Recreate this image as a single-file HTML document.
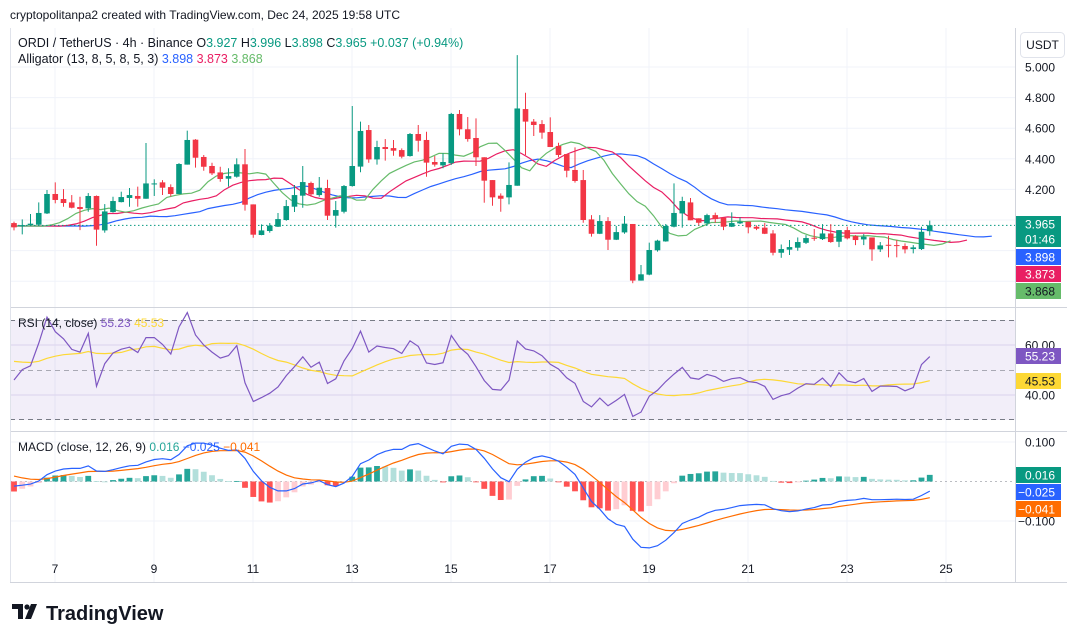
<!DOCTYPE html>
<html><head><meta charset="utf-8"><style>
html,body{margin:0;padding:0;background:#fff;}
svg{display:block;font-family:"Liberation Sans",sans-serif;}
</style></head><body>
<svg id="c" width="1080" height="643" viewBox="0 0 1080 643" xmlns="http://www.w3.org/2000/svg">
<rect x="0" y="0" width="1080" height="643" fill="#ffffff"/>
<text x="10" y="19" font-size="12" fill="#131722">cryptopolitanpa2 created with TradingView.com, Dec 24, 2025 19:58 UTC</text>
<g id="grid"></g>
<rect x="10" y="320" width="1005" height="100" fill="#7e57c2" fill-opacity="0.1"/>
<line x1="10" y1="320.5" x2="1015" y2="320.5" stroke="#787b86" stroke-dasharray="5,4"/>
<line x1="10" y1="370.5" x2="1015" y2="370.5" stroke="#787b86" stroke-opacity="0.6" stroke-dasharray="5,4"/>
<line x1="10" y1="419.5" x2="1015" y2="419.5" stroke="#787b86" stroke-dasharray="5,4"/>
<line x1="10" y1="481.5" x2="1015" y2="481.5" stroke="#787b86" stroke-opacity="0.5" stroke-dasharray="2,3"/>
<g id="marks"></g>
<line x1="10" y1="307.5" x2="1067" y2="307.5" stroke="#d1d4dc"/>
<line x1="10" y1="431.5" x2="1067" y2="431.5" stroke="#d1d4dc"/>
<line x1="1015.5" y1="28" x2="1015.5" y2="582" stroke="#d1d4dc"/>
<line x1="10" y1="582.5" x2="1067" y2="582.5" stroke="#d1d4dc"/>
<line x1="10.5" y1="28" x2="10.5" y2="582" stroke="#e0e3eb"/>
<g id="axes"></g>
<g font-size="12.5">
<text x="18" y="47" fill="#131722">ORDI / TetherUS · 4h · Binance <tspan fill="#131722">O</tspan><tspan fill="#089981">3.927</tspan> <tspan fill="#131722">H</tspan><tspan fill="#089981">3.996</tspan> <tspan fill="#131722">L</tspan><tspan fill="#089981">3.898</tspan> <tspan fill="#131722">C</tspan><tspan fill="#089981">3.965 +0.037 (+0.94%)</tspan></text>
<text x="18" y="63" fill="#131722">Alligator (13, 8, 5, 8, 5, 3) <tspan fill="#2962ff">3.898</tspan> <tspan fill="#e91e63">3.873</tspan> <tspan fill="#66bb6a">3.868</tspan></text>
</g>
<text x="18" y="327" font-size="12" fill="#131722">RSI (14, close) <tspan fill="#7e57c2">55.23</tspan> <tspan fill="#fdd835">45.53</tspan></text>
<text x="18" y="451" font-size="12" fill="#131722">MACD (close, 12, 26, 9) <tspan fill="#26a69a">0.016</tspan> <tspan fill="#2962ff">−0.025</tspan> <tspan fill="#ff6d00">−0.041</tspan></text>
<g>
<rect x="1020.5" y="32.5" width="44" height="25" rx="4" fill="#fff" stroke="#e0e3eb"/>
<text x="1042.5" y="49" font-size="12" text-anchor="middle" fill="#131722">USDT</text>
</g>
<g>
<path d="M12 604h11v15h-5v-10h-6z" fill="#131722"/>
<circle cx="27" cy="607" r="2.6" fill="#131722"/>
<path d="M31 604h6l-6 15h-6z" fill="#131722"/>
<text x="46" y="620" font-size="20" font-weight="bold" fill="#131722">TradingView</text>
</g>
</svg>
<script>
var opens=[3.980,3.962,3.967,3.969,4.043,4.170,4.137,4.115,4.085,4.076,4.157,3.932,4.052,4.117,4.144,4.157,4.139,4.235,4.246,4.215,4.170,4.362,4.525,4.412,4.353,4.311,4.270,4.283,4.364,4.102,3.902,3.928,3.956,4.000,4.087,4.159,4.242,4.163,4.209,4.028,4.054,4.222,4.349,4.588,4.396,4.477,4.470,4.457,4.418,4.562,4.523,4.379,4.357,4.371,4.693,4.593,4.536,4.410,4.261,4.159,4.148,4.224,4.725,4.643,4.627,4.575,4.484,4.431,4.327,4.261,4.004,3.910,3.993,3.871,3.919,3.974,3.604,3.643,3.802,3.860,3.956,4.043,4.115,4.011,3.978,4.032,4.015,3.956,3.978,3.989,3.956,3.950,3.912,3.786,3.806,3.819,3.851,3.884,3.875,3.912,3.858,3.934,3.895,3.873,3.886,3.808,3.838,3.836,3.830,3.810,3.810,3.927];
var highs=[3.989,4.004,4.039,4.115,4.196,4.246,4.202,4.163,4.152,4.176,4.160,4.104,4.152,4.185,4.209,4.218,4.503,4.266,4.261,4.233,4.372,4.584,4.529,4.425,4.374,4.348,4.338,4.403,4.464,4.102,3.971,3.980,4.046,4.131,4.229,4.353,4.251,4.281,4.263,4.124,4.229,4.745,4.643,4.621,4.518,4.529,4.523,4.468,4.569,4.621,4.577,4.418,4.436,4.700,4.719,4.673,4.664,4.410,4.261,4.174,4.377,5.078,4.832,4.660,4.653,4.671,4.505,4.431,4.475,4.327,4.032,4.032,4.019,3.961,4.026,3.974,3.706,3.852,3.871,3.974,4.239,4.152,4.144,4.011,4.041,4.048,4.015,4.050,4.017,3.989,3.965,3.980,3.934,3.840,3.869,3.886,3.901,3.941,3.973,3.973,3.934,3.956,3.901,3.908,3.886,3.856,3.897,3.869,3.847,3.836,3.956,3.996];
var lows=[3.932,3.906,3.963,3.967,4.039,4.109,4.087,4.076,3.934,4.054,3.832,3.917,4.048,4.115,4.087,4.087,4.139,4.157,4.163,4.154,4.170,4.362,4.342,4.322,4.294,4.250,4.218,4.277,4.061,3.884,3.900,3.917,3.954,3.995,4.052,4.080,4.152,4.152,4.000,3.950,4.043,4.218,4.312,4.374,4.362,4.388,4.420,4.403,4.414,4.447,4.283,4.349,4.338,4.360,4.553,4.512,4.353,4.113,4.093,4.054,4.102,4.224,4.425,4.549,4.531,4.477,4.410,4.279,4.244,3.982,3.891,3.908,3.804,3.869,3.910,3.587,3.604,3.639,3.793,3.858,3.952,3.950,3.998,3.965,3.965,3.982,3.934,3.954,3.974,3.913,3.934,3.908,3.769,3.753,3.771,3.799,3.843,3.864,3.869,3.851,3.823,3.873,3.836,3.836,3.734,3.791,3.756,3.756,3.782,3.782,3.804,3.898];
var closes=[3.952,3.966,3.976,4.046,4.170,4.131,4.111,4.080,4.072,4.157,3.937,4.056,4.124,4.150,4.163,4.139,4.239,4.239,4.211,4.170,4.366,4.523,4.407,4.348,4.305,4.268,4.287,4.364,4.100,3.904,3.932,3.963,4.006,4.091,4.163,4.248,4.168,4.211,4.028,4.065,4.222,4.353,4.582,4.396,4.477,4.464,4.453,4.414,4.562,4.518,4.375,4.362,4.379,4.693,4.593,4.529,4.410,4.257,4.148,4.139,4.229,4.729,4.643,4.621,4.571,4.477,4.425,4.322,4.255,4.000,3.910,3.993,3.871,3.921,3.976,3.604,3.645,3.804,3.865,3.961,4.046,4.124,3.998,3.982,4.032,4.006,3.956,3.980,3.989,3.952,3.943,3.910,3.786,3.810,3.823,3.856,3.882,3.878,3.912,3.856,3.934,3.880,3.869,3.891,3.808,3.834,3.834,3.832,3.808,3.821,3.923,3.965];
var priceTicks=["5.000","4.800","4.600","4.400","4.200","4.000"];
var priceTickValues=[5.0,4.8,4.6,4.4,4.2,4.0];
var dayLabels=["7","9","11","13","15","17","19","21","23","25"];
var dayValues=[7,9,11,13,15,17,19,21,23,25];
var rsiTicks=[60,40];
var macdTicks=[0.1,-0.1];

var NS="http://www.w3.org/2000/svg";
function xOf(i){return 14+i*8.25;}
function xDay(d){return 55+(d-7)*49.5;}
function yP(p){return 67+(5-p)*153;}
function yR(r){return 370-(r-50)*2.5;}
function yM(m){return 481.5-m*395;}
function mk(tag,attrs,parent){var e=document.createElementNS(NS,tag);for(var k in attrs)e.setAttribute(k,attrs[k]);parent.appendChild(e);return e;}
var grid=document.getElementById('grid'),marks=document.getElementById('marks'),axes=document.getElementById('axes');

priceTickValues.forEach(function(v,i){
  var g=mk('line',{x1:10,x2:1015,y1:yP(v),y2:yP(v),stroke:'#f0f3fa'},grid);
  
  
  var t=mk('text',{x:1055,y:yP(v)+4.5,'font-size':12,'text-anchor':'end',fill:'#131722'},axes);
  t.textContent=priceTicks[i];
  
  
});
[3.8,3.6].forEach(function(v){
  var g=mk('line',{x1:10,x2:1015,y1:yP(v),y2:yP(v),stroke:'#f0f3fa'},grid);
  
  
});
dayValues.forEach(function(d,i){
  var x=xDay(d);
  var g=mk('line',{x1:x,x2:x,y1:28,y2:582,stroke:'#f0f3fa'},grid);
  
  
  var t=mk('text',{x:x,y:573,'font-size':12,'text-anchor':'middle',fill:'#131722'},axes);
  t.textContent=dayLabels[i];
  
  
});
rsiTicks.forEach(function(v){
  var g=mk('line',{x1:10,x2:1015,y1:yR(v),y2:yR(v),stroke:'#e6e1f2'},grid);
  
  
  var t=mk('text',{x:1055,y:yR(v)+4.5,'font-size':12,'text-anchor':'end',fill:'#131722'},axes);
  t.textContent=v.toFixed(2);
  
  
});
macdTicks.forEach(function(v){
  var g=mk('line',{x1:10,x2:1015,y1:yM(v),y2:yM(v),stroke:'#f0f3fa'},grid);
  
  
  var t=mk('text',{x:1055,y:yM(v)+4.5,'font-size':12,'text-anchor':'end',fill:'#131722'},axes);
  t.textContent=(v<0?'−':'')+Math.abs(v).toFixed(3);
  
  
});

var n=closes.length;
function smma(len){var out=[],s=0;for(var i=0;i<n;i++){var m=(highs[i]+lows[i])/2;s=i==0?m:(s*(len-1)+m)/len;out.push(s);}return out;}
function shiftedLine(vals,shift,color,name){
  var pts=[];
  for(var j=0;j<n+shift;j++){var k=Math.max(0,j-shift);var x=xOf(j)-4;if(x<10)x=10;pts.push(x.toFixed(1)+','+yP(vals[k]).toFixed(1));}
  var p=mk('polyline',{points:pts.join(' '),fill:'none',stroke:color,'stroke-width':1.2},marks);
  
  
}
shiftedLine(smma(13),8,'#2962ff','alligator-jaw');
shiftedLine(smma(8),5,'#e91e63','alligator-teeth');
shiftedLine(smma(5),3,'#66bb6a','alligator-lips');

var lp=mk('line',{x1:10,x2:1015,y1:yP(closes[n-1]),y2:yP(closes[n-1]),stroke:'#089981','stroke-dasharray':'1.5,2.5'},marks);



for(var i=0;i<n;i++){
  var up=closes[i]>=opens[i],col=up?'#089981':'#f23645',x=xOf(i);
  var g=mk('g',{},marks);
  
  
  mk('line',{x1:x,x2:x,y1:yP(highs[i]),y2:yP(lows[i]),stroke:col,'stroke-width':1},g);
  var t=yP(Math.max(opens[i],closes[i])),b=yP(Math.min(opens[i],closes[i]));
  mk('rect',{x:x-2.8,y:t,width:5.6,height:Math.max(1,b-t),fill:col},g);
}

var rsi=[],ag=0.012,al=0.013;
rsi.push(46);
for(var i=1;i<n;i++){var ch=closes[i]-closes[i-1];ag=(ag*13+Math.max(ch,0))/14;al=(al*13+Math.max(-ch,0))/14;rsi.push(100-100/(1+ag/al));}
var rsiMa=[];for(var i=0;i<n;i++){var s=0,c=0;for(var k=Math.max(0,i-13);k<=i;k++){s+=rsi[k];c++;}var pad=14-c;rsiMa.push((s+pad*54)/14);}
function line(vals,yf,color,name,w){var pts=vals.map(function(v,i){return xOf(i).toFixed(1)+','+yf(v).toFixed(1);});var p=mk('polyline',{points:pts.join(' '),fill:'none',stroke:color,'stroke-width':w||1.2},marks);}
line(rsiMa,yR,'#fdd835','rsi-ma-line');
line(rsi,yR,'#7e57c2','rsi-line');

var e12=closes[0]-0.005,e26=closes[0]+0.008,sig=0.02,macd=[],sg=[],hist=[];
for(var i=0;i<n;i++){e12=e12+(closes[i]-e12)*2/13;e26=e26+(closes[i]-e26)*2/27;var m=e12-e26;sig=sig+(m-sig)*2/10;macd.push(m);sg.push(sig);hist.push(m-sig);}
for(var i=0;i<n;i++){
  var h=hist[i],prev=i?hist[i-1]:0,col;
  if(h>=0)col=h>=prev?'#26a69a':'#b2dfdb';else col=h<prev?'#ff5252':'#ffcdd2';
  var y0=yM(0),y1=yM(h);
  var r=mk('rect',{x:xOf(i)-2.9,y:Math.min(y0,y1),width:5.8,height:Math.max(0.8,Math.abs(y1-y0)),fill:col},marks);
  
  
}
line(sg,yM,'#ff6d00','macd-signal-line');
line(macd,yM,'#2962ff','macd-line');

function tag(y,h,bg,fg,txt,name){
  var g=mk('g',{},axes);
  
  
  mk('rect',{x:1016,y:y,width:45,height:h,fill:bg},g);
  var lines=txt.split('|');
  lines.forEach(function(s,k){var t=mk('text',{x:1055,y:y+12.5+k*15,'font-size':12,'text-anchor':'end',fill:fg},g);t.textContent=s;});
}
tag(216,31,'#089981','#fff','3.965|01:46','last-price-label');
tag(249,16,'#2962ff','#fff','3.898','jaw-value-label');
tag(266,16,'#e91e63','#fff','3.873','teeth-value-label');
tag(283,16,'#66bb6a','#131722','3.868','lips-value-label');
tag(348,16,'#7e57c2','#fff','55.23','rsi-value-label');
tag(373,16,'#fdd835','#131722','45.53','rsi-ma-value-label');
tag(467,16,'#089981','#fff','0.016','macd-hist-value-label');
tag(484,16,'#2962ff','#fff','−0.025','macd-value-label');
tag(501,16,'#ff6d00','#fff','−0.041','macd-signal-value-label');
</script>
</body></html>
